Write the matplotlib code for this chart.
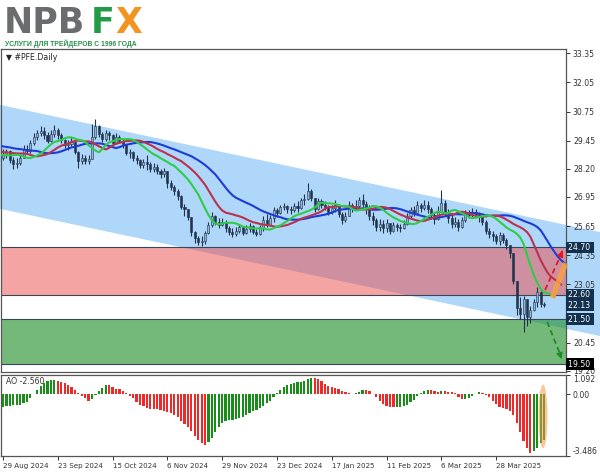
import numpy as np
import matplotlib
matplotlib.use('Agg')
import matplotlib.pyplot as plt
from matplotlib.patches import Polygon, Ellipse
import matplotlib.transforms as mtransforms

# daily PFE bars, 29 Aug 2024 .. 17 Apr 2025 (open = previous close)
first_open = 28.70
close = [
    28.85, 29.00, 28.60, 28.40, 28.45, 28.70, 29.10, 29.00, 29.35, 29.60,
    29.80, 29.90, 29.70, 29.45, 29.75, 29.95, 29.70, 29.50, 29.25, 29.30,
    29.40, 28.95, 28.55, 28.70, 28.55, 28.65, 29.60, 30.10, 29.75, 29.55,
    29.80, 29.70, 29.35, 29.60, 29.45, 29.30, 28.90, 28.95, 28.70, 28.60,
    28.35, 28.50, 28.40, 28.20, 28.30, 28.10, 27.95, 28.10, 27.55, 27.40,
    27.20, 27.00, 26.50, 26.40, 26.05, 25.40, 25.10, 24.95, 25.00, 25.35,
    25.70, 26.10, 25.85, 25.70, 25.85, 25.55, 25.40, 25.30, 25.45, 25.60,
    25.35, 25.50, 25.65, 25.40, 25.30, 25.55, 25.90, 25.70, 26.00, 26.35,
    26.25, 26.50, 26.55, 26.40, 26.35, 26.55, 26.45, 26.80, 26.85, 27.20,
    26.90, 26.40, 26.75, 26.60, 26.50, 26.30, 26.45, 26.60, 26.20, 25.90,
    26.10, 26.60, 26.45, 26.55, 26.80, 26.65, 26.40, 26.10, 25.90, 25.60,
    25.75, 25.55, 25.80, 25.45, 25.70, 25.60, 25.55, 25.75, 26.10, 26.35,
    26.25, 26.60, 26.45, 26.60, 26.40, 26.15, 25.95, 26.30, 26.70, 26.25,
    26.00, 25.75, 25.85, 25.60, 25.90, 26.20, 26.15, 26.30, 26.20, 26.05,
    25.85, 25.45, 25.30, 25.20, 25.00, 25.25, 25.05, 24.80, 24.45, 23.20,
    22.00, 21.75, 22.40, 21.60, 21.90, 22.25, 22.70, 22.20, 22.13,
]
high = [
    29.10, 29.10, 29.05, 28.75, 28.70, 28.90, 29.25, 29.25, 29.50, 29.80,
    29.95, 30.10, 30.05, 29.85, 29.95, 30.15, 30.00, 29.80, 29.55, 29.50,
    29.60, 29.40, 29.00, 28.85, 28.80, 28.80, 30.20, 30.40, 30.15, 29.85,
    29.95, 29.90, 29.75, 29.80, 29.70, 29.55, 29.30, 29.10, 29.00, 28.80,
    28.65, 28.65, 28.80, 28.50, 28.45, 28.40, 28.20, 28.25, 27.90, 27.70,
    27.50, 27.30, 27.05, 26.65, 26.40, 25.80, 25.45, 25.20, 25.20, 25.45,
    25.85, 26.30, 26.15, 26.00, 26.00, 25.90, 25.65, 25.55, 25.60, 25.75,
    25.65, 25.70, 25.80, 25.70, 25.50, 25.70, 26.10, 26.20, 26.15, 26.50,
    26.45, 26.60, 26.70, 26.60, 26.55, 26.70, 26.75, 26.90, 27.10, 27.55,
    27.30, 26.85, 26.90, 26.85, 26.75, 26.60, 26.60, 26.80, 26.65, 26.30,
    26.30, 26.75, 26.70, 26.80, 26.95, 27.10, 26.75, 26.60, 26.30, 26.00,
    25.95, 25.90, 25.95, 25.80, 25.85, 25.80, 25.75, 25.90, 26.25, 26.50,
    26.55, 26.75, 26.70, 26.80, 26.75, 26.50, 26.30, 26.55, 27.25, 26.80,
    26.40, 26.15, 26.05, 25.95, 26.05, 26.35, 26.35, 26.45, 26.40, 26.30,
    26.10, 25.90, 25.55, 25.45, 25.30, 25.40, 25.35, 25.10, 24.80, 24.35,
    23.10, 22.50, 22.55, 22.40, 22.10, 22.40, 22.95, 22.75, 22.25,
]
low = [
    28.60, 28.70, 28.45, 28.20, 28.25, 28.35, 28.70, 28.85, 28.90, 29.25,
    29.50, 29.65, 29.55, 29.35, 29.40, 29.60, 29.55, 29.35, 29.15, 29.05,
    29.20, 28.85, 28.25, 28.40, 28.40, 28.40, 29.10, 29.55, 29.60, 29.40,
    29.45, 29.50, 29.25, 29.30, 29.35, 29.15, 28.80, 28.70, 28.55, 28.40,
    28.25, 28.25, 28.15, 28.05, 28.05, 27.95, 27.80, 27.85, 27.35, 27.25,
    27.05, 26.80, 26.40, 26.10, 25.90, 25.20, 24.90, 24.80, 24.75, 24.85,
    25.30, 25.60, 25.70, 25.55, 25.65, 25.40, 25.25, 25.15, 25.20, 25.35,
    25.25, 25.30, 25.40, 25.30, 25.20, 25.25, 25.45, 25.60, 25.65, 25.85,
    26.05, 26.20, 26.35, 26.25, 26.20, 26.30, 26.30, 26.40, 26.60, 26.80,
    26.75, 26.30, 26.35, 26.45, 26.35, 26.15, 26.20, 26.30, 26.05, 25.75,
    25.85, 26.10, 26.30, 26.35, 26.45, 26.50, 26.20, 25.90, 25.70, 25.45,
    25.45, 25.35, 25.40, 25.30, 25.40, 25.45, 25.40, 25.50, 25.70, 26.00,
    26.10, 26.20, 26.30, 26.35, 26.25, 25.95, 25.75, 25.90, 26.40, 26.10,
    25.80, 25.55, 25.60, 25.45, 25.55, 25.85, 26.00, 26.05, 26.05, 25.85,
    25.70, 25.30, 25.10, 25.00, 24.85, 24.80, 24.90, 24.65, 24.25, 23.05,
    21.70, 21.50, 20.95, 21.20, 21.35, 21.85, 22.05, 22.05, 22.05,
]
# median prices of the bars before the window (1 Jul .. 28 Aug 2024), indicator warm-up
pre_median = [
    27.9, 27.7, 27.9, 28.1, 28.4, 28.7, 29.1, 29.8, 30.1, 30.4,
    31.0, 31.3, 31.0, 30.7, 30.8, 30.6, 30.4, 30.3, 30.6, 30.8,
    31.0, 30.6, 30.2, 29.6, 28.9, 28.6, 28.4, 28.5, 28.7, 28.6,
    28.8, 28.7, 28.5, 28.6, 28.7, 28.9, 28.9, 28.7, 28.8, 28.9,
    28.8, 28.75,
]

date_pos = [0, 16, 32, 48, 64, 80, 96, 112, 128, 144]
date_labels = ['29 Aug 2024', '23 Sep 2024', '15 Oct 2024', '6 Nov 2024', '29 Nov 2024',
               '23 Dec 2024', '17 Jan 2025', '11 Feb 2025', '6 Mar 2025', '28 Mar 2025']
price_ticks = [33.35, 32.05, 30.75, 29.45, 28.20, 26.95, 25.65, 24.35, 23.05, 21.75, 20.45, 19.20]

# analyst levels and the descending channel
resistance_zone = [22.60, 24.70]
support_zone = [19.50, 21.50]
channel_x = [-0.88, 174.4]
channel_top = [31.05, 25.38]
channel_bottom = [26.42, 20.75]
last_price = 22.13
ao_min, ao_max = -3.486, 1.092

W, H = 600, 476


def rect(x0, y0, x1, y1):
    return [x0 / W, 1 - y1 / H, (x1 - x0) / W, (y1 - y0) / H]


def smma(values, period):
    out = np.full(len(values), np.nan)
    out[period - 1] = np.mean(values[:period])
    for i in range(period, len(values)):
        out[i] = (out[i - 1] * (period - 1) + values[i]) / period
    return out


def sma(values, period):
    out = np.full(len(values), np.nan)
    out[period - 1:] = np.convolve(values, np.ones(period) / period, mode='valid')
    return out


close = np.array(close)
high = np.array(high)
low = np.array(low)
opens = np.concatenate([[first_open], close[:-1]])
idx = np.arange(len(close))

median = np.concatenate([pre_median, (high + low) / 2])
pos_all = np.arange(len(median)) - len(pre_median)

fig = plt.figure(figsize=(6.0, 4.76), dpi=100)
ax = fig.add_axes(rect(1, 49, 566, 372))
ax_ao = fig.add_axes(rect(1, 375, 566, 456))
xlim = (-0.58, 164.4)

# channel and zones
ax.add_patch(Polygon([(channel_x[0], channel_top[0]), (channel_x[1], channel_top[1]),
                      (channel_x[1], channel_bottom[1]), (channel_x[0], channel_bottom[0])],
                     closed=True, fc='#afd7f9', ec='none', zorder=0.5, clip_on=False))
ax.axhspan(*resistance_zone, color=(0.93, 0.29, 0.29), alpha=0.5, lw=0, zorder=1)
ax.axhspan(*support_zone, color=(0.16, 0.58, 0.20), alpha=0.65, lw=0, zorder=1)
for lvl in resistance_zone + support_zone:
    ax.axhline(lvl, color='#3a4656', lw=0.8, zorder=2)

# candles
dark = '#22344d'
light = '#8db3d9'
body_lo = np.minimum(opens, close)
body_hi = np.maximum(opens, close)
ax.vlines(idx, np.minimum(low, body_lo), np.maximum(high, body_hi), color=dark, lw=0.8, zorder=4)
bull = close >= opens
ax.bar(idx, np.maximum(body_hi - body_lo, 0.03), bottom=body_lo, width=0.6,
       color=np.where(bull, light, dark), edgecolor=dark, linewidth=0.4, zorder=5)

# alligator
jaw = smma(median, 13)
teeth = smma(median, 8)
lips = smma(median, 5)
ax.plot(pos_all + 8, jaw, color='#1f3bd6', lw=1.5, zorder=6)
ax.plot(pos_all + 5, teeth, color='#b8344c', lw=1.5, zorder=6)
ax.plot(pos_all + 3, lips, color='#2fcc48', lw=1.5, zorder=6)

# forecast arrows
ax.plot([160.4, 164.3], [22.45, 24.0], color='#f5a040', lw=4, alpha=0.85, zorder=7,
        solid_capstyle='butt', clip_on=False)
ax.plot([158.3, 163.3], [22.81, 24.5], color='#e8141e', lw=1.3, ls=(0, (3, 2)), zorder=8)
ax.annotate('', xy=(163.7, 24.68), xytext=(163.0, 24.4),
            arrowprops=dict(arrowstyle='-|>', color='#e8141e', lw=1.0, mutation_scale=9), zorder=8)
ax.plot([158.9, 162.8], [21.38, 19.9], color='#1e8c28', lw=1.3, ls=(0, (3, 2)), zorder=8)
ax.annotate('', xy=(163.1, 19.72), xytext=(162.6, 19.95),
            arrowprops=dict(arrowstyle='-|>', color='#1e8c28', lw=1.0, mutation_scale=9), zorder=8)

ax.set_xlim(*xlim)
ax.set_ylim(19.15, 33.54)
ax.set_xticks([])
ax.yaxis.tick_right()
ax.set_yticks(price_ticks)
# 21.75 sits behind the price boxes on the scale
ax.set_yticklabels(['' if t == 21.75 else '%.2f' % t for t in price_ticks])
ax.tick_params(axis='y', direction='out', length=3, width=0.7, pad=2, labelsize=5.6,
               colors='#333333', labelfontfamily='DejaVu Sans')

# price boxes on the scale
tr = mtransforms.blended_transform_factory(ax.transAxes, ax.transData)
for val, bg in [(24.70, '#13304e'), (22.60, '#13304e'), (last_price, '#13304e'),
                (21.50, '#13304e'), (19.50, '#000000')]:
    ax.text(1.003, val, '%.2f ' % val, transform=tr, ha='left', va='center', fontsize=5.6,
            color='white', zorder=10, clip_on=False,
            bbox=dict(boxstyle='square,pad=0.18', fc=bg, ec='none'))

# awesome oscillator
ao = sma(median, 5) - sma(median, 34)
ao_main = ao[len(pre_median):]
ao_prev = ao[len(pre_median) - 1:-1]
ao_colors = np.where(ao_main > ao_prev, '#1a8c1a', '#f02828')
ax_ao.bar(idx, ao_main, width=0.65, color=ao_colors, lw=0, zorder=3)
ax_ao.add_patch(Ellipse((157.7, -1.25), 2.6, 3.6, fc='#f59a48', ec='none', alpha=0.55, zorder=4))
ax_ao.set_xlim(*xlim)
ax_ao.set_ylim(ao_min, ao_max)
ax_ao.yaxis.tick_right()
ax_ao.set_yticks([ao_min, 0.0, ao_max])
ax_ao.set_yticklabels(['%.3f' % ao_min, '0.00', '%.3f' % ao_max])
ax_ao.tick_params(axis='y', direction='out', length=3, width=0.7, pad=2, labelsize=5.6,
                  colors='#333333', labelfontfamily='DejaVu Sans')
ylabs = ax_ao.get_yticklabels()
ylabs[0].set_va('bottom')
ylabs[2].set_va('top')
ax_ao.set_xticks(date_pos)
ax_ao.set_xticklabels(date_labels, ha='left')
ax_ao.tick_params(axis='x', direction='out', length=3, width=0.7, pad=2, labelsize=5.1,
                  colors='#333333', labelfontfamily='DejaVu Sans')

for a in (ax, ax_ao):
    for sp in a.spines.values():
        sp.set_color('#555555')
        sp.set_linewidth(0.9)

fig.text(6 / W, 1 - 382 / H, 'AO %.3f' % ao_main[-1], fontsize=5.6, color='#333333', va='center')
fig.text(6 / W, 1 - 58 / H, '\u25bc #PFE.Daily', fontsize=5.6, color='#222222', va='center')

# logo
fig.text(4 / W, 1 - 33 / H, 'NPB', fontsize=25, fontweight='bold', color='#6b6c6e', va='baseline')
fig.text(91 / W, 1 - 33 / H, 'F', fontsize=25, fontweight='bold', color='#239a48', va='baseline')
fig.text(115 / W, 1 - 33 / H, 'X', fontsize=25, fontweight='bold', color='#f39320', va='baseline')
fig.text(5 / W, 1 - 46.5 / H, 'УСЛУГИ ДЛЯ ТРЕЙДЕРОВ С 1996 ГОДА', fontsize=4.9,
         fontweight='bold', color='#27914a', va='baseline', family='Liberation Sans')

fig.savefig('out.png', dpi=100)
